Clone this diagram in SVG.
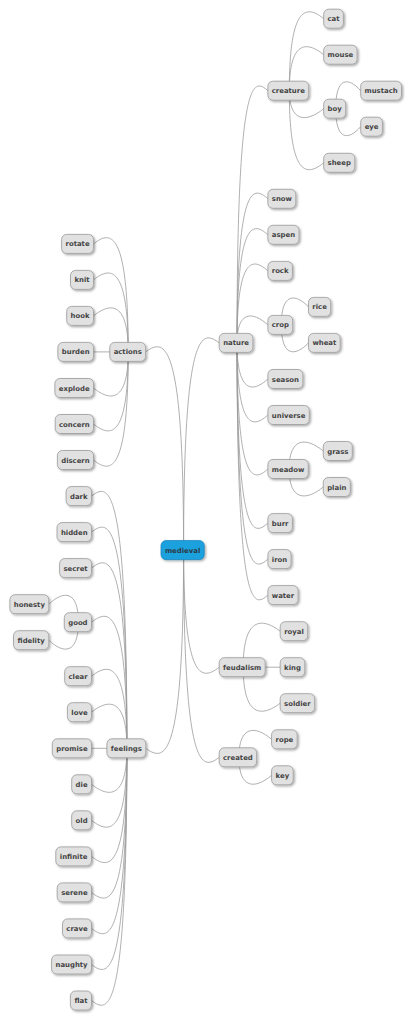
<svg xmlns="http://www.w3.org/2000/svg" width="415" height="1024" viewBox="0 0 415 1024">
<defs>
<filter id="sh" x="-20%" y="-30%" width="140%" height="170%">
<feDropShadow dx="1.3" dy="1.3" stdDeviation="0.8" flood-color="#000" flood-opacity="0.35"/>
</filter>
<style>
.n rect{fill:#E1E1E1;stroke:#9A9A9A;stroke-width:0.8;filter:url(#sh)}
.root rect{fill:#1FA1DF;stroke:#1A86BC}
text{font-family:"DejaVu Sans","Liberation Sans",sans-serif;font-weight:bold;font-size:6.9px;fill:#444;text-anchor:middle}
.root text{fill:#2B3B46}
#connectors path{fill:none;stroke:#9C9C9C;stroke-width:0.8}
</style>
</defs>
<rect width="415" height="1024" fill="#fff"/>
<g id="connectors">
<path d="M183.6 550.1C183.6 328.9 201.4 328.9 219.2 342.9"/>
<path d="M183.6 550.1C183.6 681.2 201.4 681.2 219.2 667.2"/>
<path d="M183.6 550.1C183.6 771.3 201.4 771.3 219.2 757.3"/>
<path d="M183.6 550.1C183.6 337.9 164.6 337.9 145.6 351.9"/>
<path d="M183.6 550.1C183.6 762.3 164.7 762.3 145.8 748.3"/>
<path d="M237 342.9C237 76.7 252.5 76.7 267.9 90.7"/>
<path d="M237 342.9C237 184.8 252.5 184.8 267.9 198.8"/>
<path d="M237 342.9C237 220.8 252.5 220.8 267.9 234.8"/>
<path d="M237 342.9C237 256.9 252.5 256.9 267.9 270.9"/>
<path d="M237 342.9C237 310.9 252.5 310.9 267.9 324.9"/>
<path d="M237 342.9C237 393 252.5 393 267.9 379"/>
<path d="M237 342.9C237 429 252.5 429 267.9 415"/>
<path d="M237 342.9C237 483 252.5 483 267.9 469"/>
<path d="M237 342.9C237 537.1 252.5 537.1 267.9 523.1"/>
<path d="M237 342.9C237 573.1 252.5 573.1 267.9 559.1"/>
<path d="M237 342.9C237 609.1 252.5 609.1 267.9 595.1"/>
<path d="M289.3 90.7C289.3 4.7 306.5 4.7 323.7 18.7"/>
<path d="M289.3 90.7C289.3 40.7 306.5 40.7 323.7 54.7"/>
<path d="M289.3 90.7C289.3 122.7 306.5 122.7 323.7 108.7"/>
<path d="M289.3 90.7C289.3 176.8 306.5 176.8 323.7 162.8"/>
<path d="M335.7 108.7C335.7 76.7 348.2 76.7 360.7 90.7"/>
<path d="M335.7 108.7C335.7 140.7 348.2 140.7 360.7 126.7"/>
<path d="M281.3 324.9C281.3 292.9 294.9 292.9 308.5 306.9"/>
<path d="M281.3 324.9C281.3 356.9 294.9 356.9 308.5 342.9"/>
<path d="M289.1 469C289.1 437 306.2 437 323.3 451"/>
<path d="M289.1 469C289.1 501 306.2 501 323.3 487"/>
<path d="M243.2 667.2C243.2 617.2 261.7 617.2 280.2 631.2"/>
<path d="M243.2 667.2L280.2 667.2"/>
<path d="M243.2 667.2C243.2 717.2 261.7 717.2 280.2 703.2"/>
<path d="M238.9 757.3C238.9 725.3 255.3 725.3 271.6 739.3"/>
<path d="M238.9 757.3C238.9 789.3 255.3 789.3 271.6 775.3"/>
<path d="M128.2 351.9C128.2 229.9 110.9 229.9 93.5 243.9"/>
<path d="M128.2 351.9C128.2 265.9 110.9 265.9 93.5 279.9"/>
<path d="M128.2 351.9C128.2 301.9 110.9 301.9 93.5 315.9"/>
<path d="M128.2 351.9L93.5 351.9"/>
<path d="M128.2 351.9C128.2 402 110.9 402 93.5 388"/>
<path d="M128.2 351.9C128.2 438 110.9 438 93.5 424"/>
<path d="M128.2 351.9C128.2 474 110.9 474 93.5 460"/>
<path d="M126.9 748.3C126.9 482.1 109.2 482.1 91.5 496.1"/>
<path d="M126.9 748.3C126.9 518.1 109.2 518.1 91.5 532.1"/>
<path d="M126.9 748.3C126.9 554.1 109.2 554.1 91.5 568.1"/>
<path d="M126.9 748.3C126.9 608.2 109.2 608.2 91.5 622.2"/>
<path d="M126.9 748.3C126.9 662.2 109.2 662.2 91.5 676.2"/>
<path d="M126.9 748.3C126.9 698.2 109.2 698.2 91.5 712.2"/>
<path d="M126.9 748.3L91.5 748.3"/>
<path d="M126.9 748.3C126.9 798.3 109.2 798.3 91.5 784.3"/>
<path d="M126.9 748.3C126.9 834.3 109.2 834.3 91.5 820.3"/>
<path d="M126.9 748.3C126.9 870.4 109.2 870.4 91.5 856.4"/>
<path d="M126.9 748.3C126.9 906.4 109.2 906.4 91.5 892.4"/>
<path d="M126.9 748.3C126.9 942.4 109.2 942.4 91.5 928.4"/>
<path d="M126.9 748.3C126.9 978.5 109.2 978.5 91.5 964.5"/>
<path d="M126.9 748.3C126.9 1014.5 109.2 1014.5 91.5 1000.5"/>
<path d="M78.4 622.2C78.4 590.2 63.6 590.2 48.8 604.2"/>
<path d="M78.4 622.2C78.4 654.2 63.6 654.2 48.8 640.2"/>
</g>
<g id="medieval" class="n root"><rect x="161" y="540.6" width="43.2" height="19" rx="5"/><text x="182.6" y="552.6">medieval</text></g>
<g id="nature" class="n"><rect x="219.2" y="333.4" width="33.7" height="19" rx="5"/><text x="236.05" y="345.4">nature</text></g>
<g id="feudalism" class="n"><rect x="219.2" y="657.7" width="46" height="19" rx="5"/><text x="242.2" y="669.7">feudalism</text></g>
<g id="created" class="n"><rect x="219.2" y="747.8" width="37.4" height="19" rx="5"/><text x="237.9" y="759.8">created</text></g>
<g id="creature" class="n"><rect x="267.9" y="81.2" width="40.8" height="19" rx="5"/><text x="288.3" y="93.2">creature</text></g>
<g id="snow" class="n"><rect x="267.9" y="189.3" width="27.9" height="19" rx="5"/><text x="281.85" y="201.3">snow</text></g>
<g id="aspen" class="n"><rect x="267.9" y="225.3" width="31.1" height="19" rx="5"/><text x="283.45" y="237.3">aspen</text></g>
<g id="rock" class="n"><rect x="267.9" y="261.4" width="24.5" height="19" rx="5"/><text x="280.15" y="273.4">rock</text></g>
<g id="crop" class="n"><rect x="267.9" y="315.4" width="24.8" height="19" rx="5"/><text x="280.3" y="327.4">crop</text></g>
<g id="season" class="n"><rect x="267.9" y="369.5" width="35" height="19" rx="5"/><text x="285.4" y="381.5">season</text></g>
<g id="universe" class="n"><rect x="267.9" y="405.5" width="41.4" height="19" rx="5"/><text x="288.6" y="417.5">universe</text></g>
<g id="meadow" class="n"><rect x="267.9" y="459.5" width="40.4" height="19" rx="5"/><text x="288.1" y="471.5">meadow</text></g>
<g id="burr" class="n"><rect x="267.9" y="513.6" width="24.5" height="19" rx="5"/><text x="280.15" y="525.6">burr</text></g>
<g id="iron" class="n"><rect x="267.9" y="549.6" width="23.2" height="19" rx="5"/><text x="279.5" y="561.6">iron</text></g>
<g id="water" class="n"><rect x="267.9" y="585.6" width="30.2" height="19" rx="5"/><text x="283" y="597.6">water</text></g>
<g id="cat" class="n"><rect x="323.7" y="9.2" width="19.7" height="19" rx="5"/><text x="333.55" y="21.2">cat</text></g>
<g id="mouse" class="n"><rect x="323.7" y="45.2" width="33.4" height="19" rx="5"/><text x="340.4" y="57.2">mouse</text></g>
<g id="boy" class="n"><rect x="323.7" y="99.2" width="22" height="19" rx="5"/><text x="334.7" y="111.2">boy</text></g>
<g id="sheep" class="n"><rect x="323.7" y="153.3" width="31.1" height="19" rx="5"/><text x="339.25" y="165.3">sheep</text></g>
<g id="mustach" class="n"><rect x="360.7" y="81.2" width="40.8" height="19" rx="5"/><text x="381.1" y="93.2">mustach</text></g>
<g id="eye" class="n"><rect x="360.7" y="117.2" width="21.7" height="19" rx="5"/><text x="371.55" y="129.2">eye</text></g>
<g id="rice" class="n"><rect x="308.5" y="297.4" width="22.2" height="19" rx="5"/><text x="319.6" y="309.4">rice</text></g>
<g id="wheat" class="n"><rect x="308.5" y="333.4" width="31.7" height="19" rx="5"/><text x="324.35" y="345.4">wheat</text></g>
<g id="grass" class="n"><rect x="323.3" y="441.5" width="29" height="19" rx="5"/><text x="337.8" y="453.5">grass</text></g>
<g id="plain" class="n"><rect x="323.3" y="477.5" width="27" height="19" rx="5"/><text x="336.8" y="489.5">plain</text></g>
<g id="royal" class="n"><rect x="280.2" y="621.7" width="27.5" height="19" rx="5"/><text x="293.95" y="633.7">royal</text></g>
<g id="king" class="n"><rect x="280.2" y="657.7" width="24.6" height="19" rx="5"/><text x="292.5" y="669.7">king</text></g>
<g id="soldier" class="n"><rect x="280.2" y="693.7" width="34.4" height="19" rx="5"/><text x="297.4" y="705.7">soldier</text></g>
<g id="rope" class="n"><rect x="271.6" y="729.8" width="25.6" height="19" rx="5"/><text x="284.4" y="741.8">rope</text></g>
<g id="key" class="n"><rect x="271.6" y="765.8" width="21.6" height="19" rx="5"/><text x="282.4" y="777.8">key</text></g>
<g id="actions" class="n"><rect x="109.8" y="342.4" width="35.8" height="19" rx="5"/><text x="127.7" y="354.4">actions</text></g>
<g id="feelings" class="n"><rect x="106.9" y="738.8" width="38.9" height="19" rx="5"/><text x="126.35" y="750.8">feelings</text></g>
<g id="rotate" class="n"><rect x="61.6" y="234.4" width="31.9" height="19" rx="5"/><text x="77.55" y="246.4">rotate</text></g>
<g id="knit" class="n"><rect x="70.5" y="270.4" width="23" height="19" rx="5"/><text x="82" y="282.4">knit</text></g>
<g id="hook" class="n"><rect x="66.7" y="306.4" width="26.8" height="19" rx="5"/><text x="80.1" y="318.4">hook</text></g>
<g id="burden" class="n"><rect x="57.9" y="342.4" width="35.6" height="19" rx="5"/><text x="75.7" y="354.4">burden</text></g>
<g id="explode" class="n"><rect x="54.9" y="378.5" width="38.6" height="19" rx="5"/><text x="74.2" y="390.5">explode</text></g>
<g id="concern" class="n"><rect x="55.2" y="414.5" width="38.3" height="19" rx="5"/><text x="74.35" y="426.5">concern</text></g>
<g id="discern" class="n"><rect x="57.4" y="450.5" width="36.1" height="19" rx="5"/><text x="75.45" y="462.5">discern</text></g>
<g id="dark" class="n"><rect x="66.1" y="486.6" width="25.4" height="19" rx="5"/><text x="78.8" y="498.6">dark</text></g>
<g id="hidden" class="n"><rect x="57" y="522.6" width="34.5" height="19" rx="5"/><text x="74.25" y="534.6">hidden</text></g>
<g id="secret" class="n"><rect x="59.6" y="558.6" width="31.9" height="19" rx="5"/><text x="75.55" y="570.6">secret</text></g>
<g id="good" class="n"><rect x="64.3" y="612.7" width="27.2" height="19" rx="5"/><text x="77.9" y="624.7">good</text></g>
<g id="honesty" class="n"><rect x="9.9" y="594.7" width="38.9" height="19" rx="5"/><text x="29.35" y="606.7">honesty</text></g>
<g id="fidelity" class="n"><rect x="13.5" y="630.7" width="35.3" height="19" rx="5"/><text x="31.15" y="642.7">fidelity</text></g>
<g id="clear" class="n"><rect x="64.7" y="666.7" width="26.8" height="19" rx="5"/><text x="78.1" y="678.7">clear</text></g>
<g id="love" class="n"><rect x="67.4" y="702.7" width="24.1" height="19" rx="5"/><text x="79.45" y="714.7">love</text></g>
<g id="promise" class="n"><rect x="52.3" y="738.8" width="39.2" height="19" rx="5"/><text x="71.9" y="750.8">promise</text></g>
<g id="die" class="n"><rect x="71.7" y="774.8" width="19.8" height="19" rx="5"/><text x="81.6" y="786.8">die</text></g>
<g id="old" class="n"><rect x="71.7" y="810.8" width="19.8" height="19" rx="5"/><text x="81.6" y="822.8">old</text></g>
<g id="infinite" class="n"><rect x="55.8" y="846.9" width="35.7" height="19" rx="5"/><text x="73.65" y="858.9">infinite</text></g>
<g id="serene" class="n"><rect x="57.2" y="882.9" width="34.3" height="19" rx="5"/><text x="74.35" y="894.9">serene</text></g>
<g id="crave" class="n"><rect x="62.5" y="918.9" width="29" height="19" rx="5"/><text x="77" y="930.9">crave</text></g>
<g id="naughty" class="n"><rect x="51.6" y="955" width="39.9" height="19" rx="5"/><text x="71.55" y="967">naughty</text></g>
<g id="flat" class="n"><rect x="70.4" y="991" width="21.1" height="19" rx="5"/><text x="80.95" y="1003">flat</text></g>
</svg>
